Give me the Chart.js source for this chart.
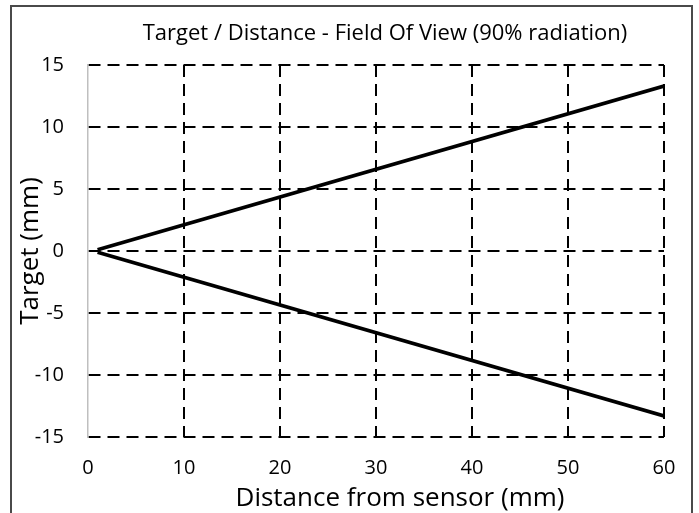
<!DOCTYPE html>
<html><head><meta charset="utf-8">
<script src="https://cdn.jsdelivr.net/npm/chart.js@4"></script>
<style>
html,body{margin:0;padding:0;background:#fff;overflow:hidden}
#wrap{position:relative;width:699px;height:513px;overflow:hidden}
#frame{position:absolute;left:10px;top:5px;width:679px;height:600px;border:2px solid #4a4a4a;pointer-events:none}
canvas{position:absolute;left:0;top:0}
</style></head><body>
<div id="wrap"><canvas id="c" width="699" height="513"></canvas><div id="frame"></div></div>
<script>
const distance = [1, 60];
const upperEdge = [0.1, 13.3];
const lowerEdge = [-0.1, -13.3];
const xTicks = [0, 10, 20, 30, 40, 50, 60];
const yTicks = [-15, -10, -5, 0, 5, 10, 15];
const chartTitle = 'Target / Distance - Field Of View (90% radiation)';
const xTitle = 'Distance from sensor (mm)';
const yTitle = 'Target (mm)';

const FONT = '"Open Sans", Lato, sans-serif';
const dash = [12, 7];

// Draws the chart title and the x-axis title as canvas text, offset like the original
const textTitles = {
  id: 'textTitles',
  afterDraw(chart) {
    const { ctx, chartArea } = chart;
    const cx = (chartArea.left + chartArea.right) / 2;
    ctx.save();
    ctx.fillStyle = '#000';
    ctx.textAlign = 'center';
    ctx.textBaseline = 'alphabetic';
    ctx.font = '22px ' + FONT;
    ctx.fillText(chartTitle, cx + 9, chartArea.top - 25);
    ctx.font = '26px ' + FONT;
    ctx.fillText(xTitle, cx + 24, chartArea.bottom + 69);
    ctx.restore();
  }
};

new Chart(document.getElementById('c'), {
  type: 'line',
  data: {
    datasets: [
      { data: distance.map((x, i) => ({ x, y: upperEdge[i] })), borderColor: '#000', borderWidth: 3.75, pointRadius: 0, fill: false, tension: 0 },
      { data: distance.map((x, i) => ({ x, y: lowerEdge[i] })), borderColor: '#000', borderWidth: 3.75, pointRadius: 0, fill: false, tension: 0 }
    ]
  },
  plugins: [textTitles],
  options: {
    responsive: false, animation: false, devicePixelRatio: 1,
    layout: { padding: { left: 11, right: 35, top: 65, bottom: 0 } },
    plugins: {
      legend: { display: false }, tooltip: { enabled: false }, title: { display: false }
    },
    scales: {
      x: {
        type: 'linear', min: xTicks[0], max: xTicks[xTicks.length - 1],
        afterBuildTicks: s => { s.ticks = xTicks.map(v => ({ value: v })); },
        ticks: { color: '#000', font: { family: FONT, size: 20 }, padding: 19, maxRotation: 0 },
        grid: { color: c => (c.tick && c.tick.value === 0) ? 'rgba(0,0,0,0)' : '#000', lineWidth: 2, drawTicks: false },
        border: { display: false, dash: dash },
        title: { display: false },
        afterFit: s => { s.height = 76; }
      },
      y: {
        type: 'linear', min: yTicks[0], max: yTicks[yTicks.length - 1],
        afterBuildTicks: s => { s.ticks = yTicks.map(v => ({ value: v })); },
        ticks: { color: '#000', font: { family: FONT, size: 20 }, padding: 24 },
        grid: { color: '#000', lineWidth: 2, drawTicks: false },
        border: { display: true, color: '#bfbfbf', width: 1.5, dash: dash },
        title: { display: true, text: yTitle, color: '#000', font: { family: FONT, size: 26 }, padding: { top: 4, bottom: 0 } },
        afterFit: s => { s.width = 77; }
      }
    }
  }
});
</script>
</body></html>
